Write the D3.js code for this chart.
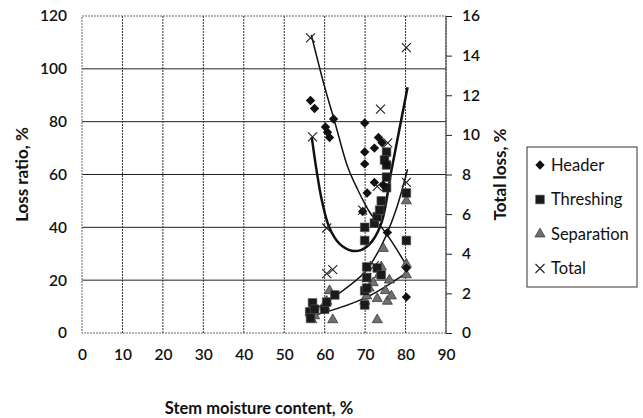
<!DOCTYPE html>
<html>
<head>
<meta charset="utf-8">
<script src="https://cdn.jsdelivr.net/npm/d3@7"></script>
<style>
  body { margin: 0; background: #fff; }
  text { font-family: Lato, "Open Sans", sans-serif; fill: #111; }
</style>
</head>
<body>
<svg width="643" height="418"></svg>
<script>
// tick labels
var xTicks = [0, 10, 20, 30, 40, 50, 60, 70, 80, 90],
    leftTicks = [0, 20, 40, 60, 80, 100, 120],
    rightTicks = [0, 2, 4, 6, 8, 10, 12, 14, 16];

// loss ratio, % (left axis) : [moisture, value]
var header = [[56.5, 88], [57.5, 85], [60.2, 78], [60.7, 76], [61.2, 74], [62.2, 81],
  [69.9, 79.5], [69.9, 68.5], [69.9, 64], [72.3, 70], [73.3, 74], [74.2, 72],
  [72.3, 57], [70.5, 53], [69.4, 46], [75.5, 38], [74.5, 56], [75.3, 64],
  [80.2, 24.6], [80.2, 13.6]];

var threshing = [[56.3, 8], [56.5, 5.7], [57, 11.4], [57.5, 9], [60, 9], [60.5, 11.7],
  [62.5, 14.4], [69.9, 35], [69.9, 40], [69.9, 16], [69.9, 10.6], [70.4, 25],
  [70.4, 21], [70.4, 17], [72.3, 41.6], [73, 44], [73, 24.6], [73.6, 46.5],
  [74, 50], [74, 22], [75.3, 55], [75.3, 59], [75.3, 63.6], [75.3, 68.5],
  [74.8, 65.5], [80.2, 53], [80.2, 35]];

var separation = [[56.8, 5], [57.5, 6.5], [60, 10], [60.5, 12], [61.2, 16], [62, 5],
  [69.9, 12], [70.4, 14], [71, 17], [72, 19], [73, 5], [73, 13], [73.5, 22],
  [74, 25], [74.5, 32], [75, 16], [75.5, 12], [76, 20], [76.5, 14],
  [80.2, 22], [80.2, 26], [80.2, 50]];

// total loss, % (right axis)
var total = [[56.5, 14.9], [57, 9.9], [60.5, 5.3], [60.5, 3.0], [62, 3.2], [69.4, 6.2],
  [70.4, 2.8], [72.3, 3.4], [73, 7.4], [73.8, 11.3], [75.6, 9.6], [80.2, 14.4],
  [80.2, 7.6]];

// trend lines
var headerTrend = [[56.7, 112.8], [60, 93.1], [62.5, 79.9], [65.7, 62.8], [68.1, 54.5],
  [71.1, 45.8], [75.3, 37.5], [80.2, 25.7]];
var threshingTrend = [[56.3, 7.6], [63, 14.4], [69.9, 23], [74, 33], [77.5, 46], [80.5, 62]];
var separationTrend = [[56.5, 6.5], [60.5, 8], [69.9, 13.2], [75, 17.5], [80.5, 23]];
var totalTrend = [[56.8, 9.9], [58, 8.2], [59.3, 6.7], [61.2, 5.3], [63.7, 4.5], [66.7, 4.15],
  [69.1, 4.2], [71.6, 4.6], [74.1, 5.6], [76.5, 8.2], [80.5, 12.4]];

var svg = d3.select("svg"),
    margin = { top: 16, right: 197, bottom: 85, left: 82 },
    width = +svg.attr("width") - margin.left - margin.right,
    height = +svg.attr("height") - margin.top - margin.bottom;

var x = d3.scaleLinear().domain([0, 90]).range([0, width]),
    yL = d3.scaleLinear().domain([0, 120]).range([height, 0]),
    yR = d3.scaleLinear().domain([0, 16]).range([height, 0]);

var g = svg.append("g")
    .attr("transform", "translate(" + margin.left + "," + margin.top + ")");

// grid
g.selectAll(".hgrid")
  .data(leftTicks.slice(1, -1))
  .enter().append("line")
    .attr("x1", 0).attr("x2", width)
    .attr("y1", function(d) { return yL(d); })
    .attr("y2", function(d) { return yL(d); })
    .style("stroke", "#222").style("stroke-width", 1);

g.selectAll(".vgrid")
  .data(xTicks.slice(1, -1))
  .enter().append("line")
    .attr("x1", function(d) { return x(d); })
    .attr("x2", function(d) { return x(d); })
    .attr("y1", 0).attr("y2", height)
    .style("stroke", "#333").style("stroke-dasharray", "2,1");

g.append("rect")
  .attr("width", width).attr("height", height)
  .style("fill", "none").style("stroke", "#666").style("stroke-dasharray", "2,1");

// axes
var axL = g.append("g")
  .call(d3.axisLeft(yL).tickValues(leftTicks).tickSize(0).tickPadding(15));
var axR = g.append("g")
  .attr("transform", "translate(" + width + ",0)")
  .call(d3.axisRight(yR).tickValues(rightTicks).tickSize(6).tickPadding(10));
var axB = g.append("g")
  .attr("transform", "translate(0," + height + ")")
  .call(d3.axisBottom(x).tickValues(xTicks).tickSize(0).tickPadding(16));

[axL, axR, axB].forEach(function(a) {
  a.select(".domain").remove();
  a.selectAll("text").style("font-size", "15.5px").style("font-weight", "600")
    .style("font-family", "Lato, sans-serif").style("fill", "#111");
  a.selectAll("line").style("stroke", "#222");
});
g.append("line").attr("x1", width).attr("x2", width).attr("y1", 0).attr("y2", height)
  .style("stroke", "#333");

// trend lines
var lineL = d3.line().curve(d3.curveCatmullRom)
    .x(function(d) { return x(d[0]); }).y(function(d) { return yL(d[1]); });
var lineR = d3.line().curve(d3.curveCatmullRom)
    .x(function(d) { return x(d[0]); }).y(function(d) { return yR(d[1]); });

[headerTrend, threshingTrend, separationTrend].forEach(function(t) {
  g.append("path").attr("d", lineL(t))
    .style("fill", "none").style("stroke", "#111").style("stroke-width", 1.5);
});
g.append("path").attr("d", lineR(totalTrend))
  .style("fill", "none").style("stroke", "#111").style("stroke-width", 2.5);

// markers
var diamond = d3.symbol().type(d3.symbolSquare).size(44),
    square = d3.symbol().type(d3.symbolSquare).size(76),
    triangle = d3.symbol().type(d3.symbolTriangle).size(44);

function xMark(sel, s) {
  sel.append("path")
    .attr("d", "M" + (-s) + "," + (-s) + "L" + s + "," + s + "M" + (-s) + "," + s + "L" + s + "," + (-s))
    .style("stroke", "#222").style("stroke-width", 1.1).style("fill", "none");
}

g.selectAll(".sep")
  .data(separation)
  .enter().append("path")
    .attr("d", triangle)
    .attr("transform", function(d) { return "translate(" + x(d[0]) + "," + yL(d[1]) + ")"; })
    .style("fill", "#707070").style("stroke", "#3a3a3a").style("stroke-width", 0.8);

g.selectAll(".thr")
  .data(threshing)
  .enter().append("path")
    .attr("d", square)
    .attr("transform", function(d) { return "translate(" + x(d[0]) + "," + yL(d[1]) + ")"; })
    .style("fill", "#1a1a1a").style("stroke", "#555").style("stroke-width", 0.6);

g.selectAll(".hdr")
  .data(header)
  .enter().append("path")
    .attr("d", diamond)
    .attr("transform", function(d) { return "translate(" + x(d[0]) + "," + yL(d[1]) + ") rotate(45)"; })
    .style("fill", "#111");

g.selectAll(".tot")
  .data(total)
  .enter().append("g")
    .attr("transform", function(d) { return "translate(" + x(d[0]) + "," + yR(d[1]) + ")"; })
    .each(function() { xMark(d3.select(this), 4.5); });

// axis titles
svg.append("text")
  .attr("transform", "translate(22," + (margin.top + height / 2) + ") rotate(-90)")
  .attr("text-anchor", "middle").attr("dy", "0.35em")
  .style("font-size", "17px").style("font-weight", "bold")
  .text("Loss ratio, %");

svg.append("text")
  .attr("transform", "translate(500," + (margin.top + height / 2) + ") rotate(-90)")
  .attr("text-anchor", "middle").attr("dy", "0.35em")
  .style("font-size", "17px").style("font-weight", "bold")
  .text("Total loss, %");

svg.append("text")
  .attr("x", 259).attr("y", 408).attr("dy", "0.35em")
  .attr("text-anchor", "middle")
  .style("font-size", "16.5px").style("font-weight", "bold")
  .text("Stem moisture content, %");

// legend
var legendNames = ["Header", "Threshing", "Separation", "Total"];
var lg = svg.append("g").attr("transform", "translate(527,147)");
lg.append("rect").attr("width", 110).attr("height", 140)
  .style("fill", "#fff").style("stroke", "#333");

legendNames.forEach(function(name, i) {
  var row = lg.append("g").attr("transform", "translate(13," + (18 + i * 34.5) + ")");
  if (i === 0) row.append("path").attr("d", diamond).attr("transform", "rotate(45)").style("fill", "#111");
  if (i === 1) row.append("path").attr("d", square).style("fill", "#1a1a1a").style("stroke", "#555").style("stroke-width", 0.6);
  if (i === 2) row.append("path").attr("d", triangle).style("fill", "#707070").style("stroke", "#3a3a3a").style("stroke-width", 0.8);
  if (i === 3) xMark(row, 4.5);
  row.append("text").attr("x", 11).attr("dy", "0.35em")
    .style("font-size", "16.5px").text(name);
});
</script>
</body>
</html>
